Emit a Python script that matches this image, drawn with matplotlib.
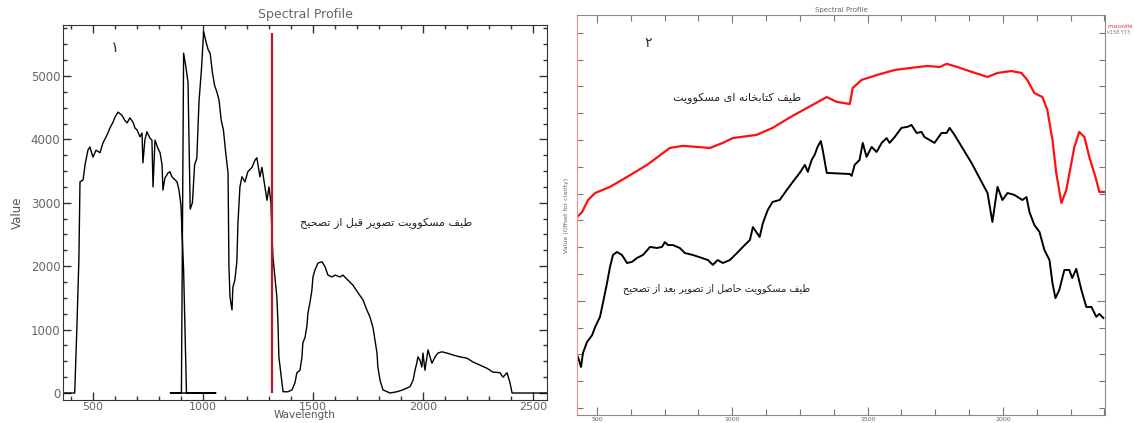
import matplotlib.pyplot as plt
from matplotlib.ticker import MultipleLocator, FixedLocator

# -------------------------
# Data
# -------------------------
# left panel: image spectrum before correction, in band order
# (VNIR then SWIR, bad bands are zero, so the line runs back along zero)
left_wl = [356, 417, 427, 436, 441, 455, 464, 477, 486, 500, 514, 532, 545, 564,
           577, 591, 600, 614, 632, 645, 655, 668, 682, 691, 700, 714, 723, 727,
           736, 745, 759, 768, 773, 782, 795, 805, 814, 818, 827, 841, 850, 859,
           873, 882, 891, 895, 900, 912, 925, 1058,
           852, 902, 912, 922, 932, 942, 952, 962, 972, 982, 993, 1003, 1013,
           1023, 1033, 1043, 1053, 1063, 1073, 1083, 1093, 1103, 1114, 1118,
           1123, 1132, 1136, 1145, 1154, 1159, 1168, 1177, 1191, 1204, 1223,
           1236, 1245, 1259, 1268, 1282, 1291, 1300, 1309, 1314, 1318, 1327,
           1336, 1341, 1345, 1359, 1364, 1386, 1405, 1418, 1427, 1441, 1450,
           1454, 1464, 1473, 1477, 1486, 1495, 1500, 1509, 1523, 1541, 1555,
           1568, 1586, 1600, 1623, 1636, 1659, 1682, 1705, 1727, 1745, 1759,
           1773, 1791, 1795, 1805, 1818, 1850, 1882, 1909, 1941, 1955, 1964,
           1973, 1977, 1986, 1995, 2000, 2009, 2023, 2032, 2041, 2055, 2068,
           2086, 2109, 2136, 2168, 2200, 2227, 2259, 2291, 2318, 2350, 2364,
           2382, 2395, 2405, 2577]
left_val = [0, 0, 1040, 2110, 3330, 3360, 3600, 3830, 3880, 3720, 3830, 3790,
            3940, 4070, 4180, 4270, 4350, 4430, 4380, 4300, 4260, 4340, 4270,
            4180, 4150, 4040, 4100, 3630, 3990, 4120, 4020, 3990, 3250, 3990,
            3860, 3790, 3600, 3200, 3390, 3470, 3490, 3410, 3360, 3330, 3200,
            3090, 2960, 1940, 0, 0,
            0, 0, 5360, 5150, 4900, 2900, 3000, 3600, 3700, 4600, 5100, 5700,
            5550, 5420, 5350, 5050, 4850, 4750, 4620, 4300, 4150, 3800, 3470,
            1990, 1510, 1310, 1670, 1780, 2070, 2680, 3250, 3410, 3330, 3490,
            3560, 3670, 3710, 3410, 3560, 3250, 3040, 3250, 3000, 2460, 2150,
            1830, 1510, 1100, 570, 160, 20, 20, 50, 160, 320, 360, 570, 790,
            880, 1070, 1260, 1420, 1620, 1830, 1940, 2050, 2070, 1990, 1860,
            1830, 1860, 1830, 1860, 1780, 1700, 1580, 1470, 1310, 1200, 1030,
            630, 410, 200, 50, 0, 20, 50, 100, 200, 360, 490, 570, 520, 410,
            630, 360, 680, 570, 470, 570, 630, 650, 630, 600, 570, 550, 490,
            440, 390, 330, 320, 250, 320, 170, 0, 0]
cursor_wl = 1314
cursor_top = 5680

# right panel: library spectrum (red) and corrected image spectrum (black),
# values offset for clarity
lib_wl = [430, 445, 467, 493, 548, 611, 685, 769, 817, 869, 917, 965, 1002,
          1090, 1149, 1223, 1297, 1349, 1386, 1434, 1445, 1478, 1537, 1600,
          1662, 1721, 1766, 1792, 1832, 1884, 1943, 1980, 2031, 2068, 2090,
          2116, 2146, 2164, 2183, 2197, 2216, 2234, 2264, 2282, 2301, 2319,
          2345, 2356, 2375]
lib_val = [7.16, 7.31, 7.76, 8.02, 8.25, 8.62, 9.07, 9.70, 9.78, 9.74, 9.70,
           9.89, 10.07, 10.19, 10.45, 10.90, 11.31, 11.60, 11.42, 11.34, 11.94,
           12.24, 12.43, 12.61, 12.69, 12.76, 12.72, 12.84, 12.72, 12.54, 12.35,
           12.50, 12.57, 12.50, 12.24, 11.75, 11.60, 11.12, 10.00, 8.77, 7.65,
           8.13, 9.74, 10.30, 10.11, 9.37, 8.51, 8.06, 8.06]

img_wl = [430, 441, 448, 463, 482, 493, 511, 522, 537, 548, 559, 574, 592, 611,
          629, 648, 670, 696, 721, 740, 751, 762, 780, 806, 825, 854, 887, 910,
          928, 946, 965, 991, 1017, 1039, 1065, 1076, 1101, 1113, 1131, 1149,
          1175, 1201, 1223, 1249, 1268, 1279, 1293, 1304, 1315, 1327, 1334,
          1349, 1434, 1441, 1452, 1470, 1482, 1496, 1515, 1533, 1552, 1570,
          1581, 1600, 1625, 1648, 1662, 1681, 1699, 1710, 1747, 1773, 1792,
          1803, 1821, 1884, 1943, 1961, 1980, 1998, 2017, 2042, 2072, 2087,
          2098, 2116, 2135, 2153, 2172, 2183, 2194, 2208, 2227, 2245, 2256,
          2271, 2290, 2308, 2327, 2345, 2356, 2371]
img_val = [1.90, 1.53, 2.05, 2.46, 2.72, 3.02, 3.40, 3.92, 4.66, 5.26, 5.71,
           5.82, 5.71, 5.41, 5.45, 5.60, 5.71, 6.01, 5.97, 6.01, 6.19, 6.08,
           6.08, 5.97, 5.78, 5.71, 5.60, 5.52, 5.34, 5.52, 5.41, 5.52, 5.78,
           6.01, 6.27, 6.75, 6.38, 6.90, 7.39, 7.69, 7.76, 8.13, 8.43, 8.77,
           9.07, 8.81, 9.25, 9.44, 9.74, 9.96, 9.63, 8.77, 8.73, 8.66, 9.07,
           9.25, 9.89, 9.37, 9.74, 9.55, 9.89, 10.07, 9.89, 10.11, 10.45,
           10.49, 10.56, 10.26, 10.30, 10.11, 9.89, 10.26, 10.26, 10.45, 10.19,
           9.14, 8.02, 6.94, 8.25, 7.76, 8.02, 7.95, 7.76, 7.87, 7.31, 6.83,
           6.57, 5.90, 5.52, 4.66, 4.10, 4.40, 5.15, 5.15, 4.85, 5.19, 4.40,
           3.77, 3.77, 3.40, 3.51, 3.36]

left_note = "طیف مسکوویت تصویر قبل از تصحیح"
lib_note = "طیف کتابخانه ای مسکوویت"
img_note = "طیف مسکوویت حاصل از تصویر بعد از تصحیح"

# -------------------------
# tiny Persian shaper (matplotlib has no Arabic shaping)
# -------------------------
forms = {
    'ا': (0xFE8D, 0xFE8E), 'د': (0xFEA9, 0xFEAA), 'ر': (0xFEAD, 0xFEAE),
    'ز': (0xFEAF, 0xFEB0), 'و': (0xFEED, 0xFEEE),
    'ب': (0xFE8F, 0xFE90, 0xFE91, 0xFE92), 'ت': (0xFE95, 0xFE96, 0xFE97, 0xFE98),
    'ح': (0xFEA1, 0xFEA2, 0xFEA3, 0xFEA4), 'خ': (0xFEA5, 0xFEA6, 0xFEA7, 0xFEA8),
    'س': (0xFEB1, 0xFEB2, 0xFEB3, 0xFEB4), 'ص': (0xFEB9, 0xFEBA, 0xFEBB, 0xFEBC),
    'ط': (0xFEC1, 0xFEC2, 0xFEC3, 0xFEC4), 'ع': (0xFEC9, 0xFECA, 0xFECB, 0xFECC),
    'ف': (0xFED1, 0xFED2, 0xFED3, 0xFED4), 'ق': (0xFED5, 0xFED6, 0xFED7, 0xFED8),
    'ل': (0xFEDD, 0xFEDE, 0xFEDF, 0xFEE0), 'م': (0xFEE1, 0xFEE2, 0xFEE3, 0xFEE4),
    'ن': (0xFEE5, 0xFEE6, 0xFEE7, 0xFEE8), 'ه': (0xFEE9, 0xFEEA, 0xFEEB, 0xFEEC),
    'ک': (0xFB8E, 0xFB8F, 0xFB90, 0xFB91), 'ی': (0xFBFC, 0xFBFD, 0xFBFE, 0xFBFF),
}


def shape_fa(s):
    out = []
    for i, ch in enumerate(s):
        f = forms.get(ch)
        if f is None:
            out.append(ch)
            continue
        prev = s[i - 1] if i > 0 else ''
        nxt = s[i + 1] if i + 1 < len(s) else ''
        jp = prev in forms and len(forms[prev]) == 4
        jn = len(f) == 4 and nxt in forms
        if jp and jn:
            c = f[3]
        elif jp:
            c = f[1]
        elif jn:
            c = f[2]
        else:
            c = f[0]
        out.append(chr(c))
    return ''.join(reversed(out))


plt.rcParams['font.family'] = ['DejaVu Sans']

fig = plt.figure(figsize=(11.34, 4.23), dpi=100)

# -------------------------
# 1 left: before correction
# -------------------------
ax1 = fig.add_axes([0.0556, 0.0544, 0.4268, 0.8865])
ax1.plot(left_wl, left_val, color='black', lw=1.0)
ax1.vlines(cursor_wl, 0, cursor_top, color='#b01c2a', lw=1.6)
ax1.set_xlim(364, 2564)
ax1.set_ylim(-110, 5804)
ax1.xaxis.set_major_locator(MultipleLocator(500))
ax1.xaxis.set_minor_locator(MultipleLocator(100))
ax1.yaxis.set_major_locator(MultipleLocator(1000))
ax1.yaxis.set_minor_locator(MultipleLocator(250))
ax1.tick_params(which='both', direction='in', top=True, right=True,
                colors='#333', labelcolor='#666', labelsize=8, width=1)
ax1.tick_params(which='major', length=6, pad=1.5)
ax1.tick_params(which='minor', length=3)
ax1.tick_params(axis='y', labelsize=8.5, pad=2)
for s in ax1.spines.values():
    s.set_color('#333')
ax1.set_title('Spectral Profile', fontsize=9, color='#666', pad=5)
ax1.set_xlabel('Wavelength', fontsize=7.5, color='#555', labelpad=-1.5)
ax1.set_ylabel('Value', fontsize=8.5, color='#555', labelpad=5)
ax1.text(600, 5450, '۱', fontsize=11, color='#333', ha='center', va='center')
ax1.text(1832, 2680, shape_fa(left_note), fontsize=8, color='#222',
         ha='center', va='center')

# -------------------------
# 2 right: library vs corrected image
# -------------------------
ax2 = fig.add_axes([0.5088, 0.0189, 0.4656, 0.9456])
ax2.plot(lib_wl, lib_val, color='#ff1010', lw=1.6)
ax2.plot(img_wl, img_val, color='black', lw=1.4)
ax2.set_xlim(426, 2377)
ax2.set_ylim(-0.26, 14.66)
ax2.xaxis.set_major_locator(MultipleLocator(500))
ax2.xaxis.set_minor_locator(MultipleLocator(125))
ax2.yaxis.set_major_locator(FixedLocator([4]))
ax2.yaxis.set_minor_locator(FixedLocator([0, 1, 2, 3, 5, 6, 7, 8, 9, 10, 11, 12, 13, 14]))
ax2.tick_params(which='both', direction='in', top=True, right=True,
                colors='#777', labelcolor='#666', labelsize=4.5, width=0.8)
ax2.tick_params(which='major', length=6, pad=1.5)
ax2.tick_params(which='minor', length=4)
ax2.tick_params(axis='y', which='both', labelleft=False)
for s in ax2.spines.values():
    s.set_color('#888')
ax2.spines['left'].set_color('#ff8a8a')
ax2.set_title('Spectral Profile', fontsize=5, color='#666', pad=2)
ax2.text(-0.019, 0.5, 'Value (Offset for clarity)', transform=ax2.transAxes,
         rotation=90, fontsize=4.5, color='#666', ha='center', va='center')
ax2.text(688, 13.6, '۲', fontsize=10, color='#333', ha='center', va='center')
ax2.text(1017, 11.57, shape_fa(lib_note), fontsize=8, color='#222',
         ha='center', va='center')
ax2.text(943, 4.44, shape_fa(img_note), fontsize=7, color='#222',
         ha='center', va='center')

# little ENVI legend to the right of the plot
fig.text(0.9762, 1 - 29 / 423, 'muscovite', color='#ff2020', fontsize=3.5,
         va='bottom')
fig.text(0.9762, 1 - 30 / 423, 'x158 Y73', color='#777', fontsize=3.5,
         va='top')

plt.savefig('out.png', dpi=100)
